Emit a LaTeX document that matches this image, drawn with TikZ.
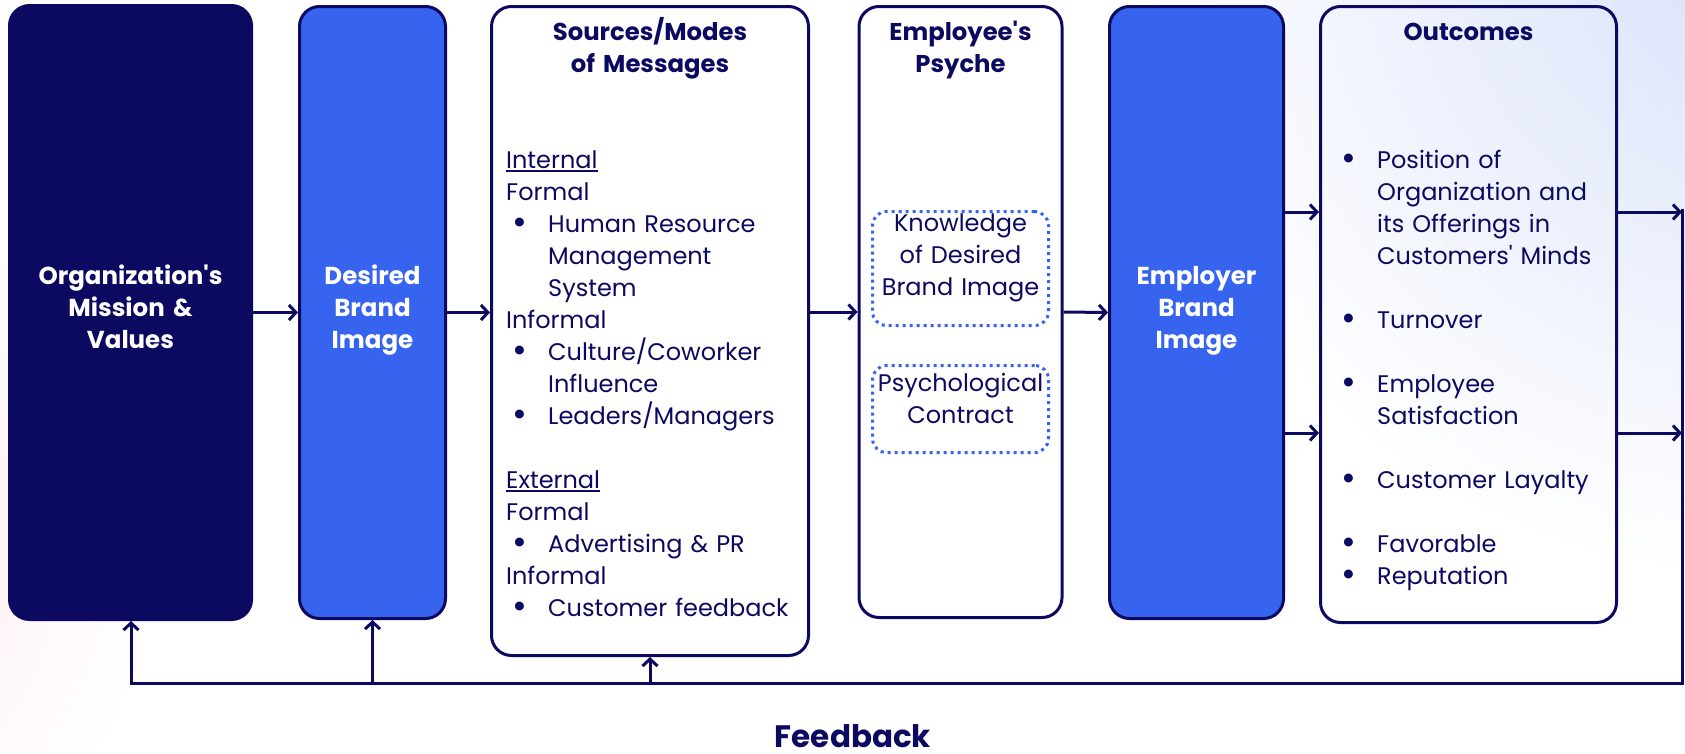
\documentclass[tikz,border=0pt]{standalone}
\usepackage{fontspec}
\usepackage{graphicx}
\setmainfont{Poppins}
\usetikzlibrary{arrows.meta}

\definecolor{navy}{HTML}{0C0A60}
\definecolor{brandblue}{HTML}{3764EE}
\definecolor{bgpink}{HTML}{FCE3EC}
\definecolor{bglav}{HTML}{D9E1FA}

% bullet line and continuation line inside a list column
\newcommand\bigdot{\smash{\raisebox{-2.6pt}{\scalebox{1.5}{\textbullet}}}}
\newcommand\bitem[1]{\makebox[28pt][c]{\bigdot}\hspace{14pt}#1}
\newcommand\bcont[1]{\hspace*{42pt}#1}
% thick underline for the section heads
\newsavebox\ulinebox
\newcommand\uline[1]{\leavevmode\sbox\ulinebox{#1}\rlap{\rule[-4pt]{\wd\ulinebox}{2pt}}\usebox\ulinebox}

\begin{document}
\begin{tikzpicture}[x=1pt,y=-1pt,
  box/.style={rounded corners=20pt, line width=3pt, draw=navy, inner sep=0pt},
  darkbox/.style={box, fill=navy},
  bluebox/.style={box, fill=brandblue},
  whitebox/.style={box},
  dotbox/.style={draw=brandblue, line width=3pt, dash pattern=on 3pt off 4pt,
                 rounded corners=14pt, inner sep=0pt},
  arr/.style={draw=navy, line width=3pt, -{Straight Barb[length=7pt,width=15pt]}},
  line/.style={draw=navy, line width=3pt},
  boldtext/.style={font=\fontsize{24.5}{32}\selectfont\bfseries, align=center,
                   text width=240pt, inner sep=0pt, anchor=base},
  whitetitle/.style={boldtext, text=white},
  navytitle/.style={boldtext, text=navy, font=\fontsize{24.3}{32}\selectfont\bfseries},
  bodytext/.style={font=\fontsize{24}{32}\selectfont, text=navy, inner sep=0pt},
  listtext/.style={bodytext, align=left, text width=300pt, anchor=base west},
  centertext/.style={bodytext, align=center, text width=200pt, anchor=base}]

\useasboundingbox (0,0) rectangle (1685,753);

% soft background wash
\fill[white] (0,0) rectangle (1685,753);
\begin{scope}
  \clip (0,0) rectangle (1685,753);
  \begin{scope}[blend mode=multiply]
    \shade[inner color=bgpink, outer color=white] (-260,540) circle (420);
    \shade[inner color=bglav, outer color=white] (1760,-60) circle (640);
  \end{scope}
\end{scope}

% main columns
\node[darkbox, minimum width=242pt, minimum height=614pt] (B1) at (130.5,312.5) {};
\node[bluebox, minimum width=146pt, minimum height=612pt] (B2) at (372.5,312.5) {};
\node[whitebox, minimum width=317pt, minimum height=649pt] (B3) at (650,331) {};
\node[whitebox, minimum width=203pt, minimum height=611pt] (B4) at (960.5,312) {};
\node[bluebox, minimum width=174pt, minimum height=612pt] (B5) at (1196.5,312.5) {};
\node[whitebox, minimum width=296pt, minimum height=616pt] (B6) at (1468.5,314.5) {};

% psyche components
\node[dotbox, minimum width=176pt, minimum height=114pt] (K) at (960.5,268.5) {};
\node[dotbox, minimum width=176pt, minimum height=87pt] (P) at (960.5,409) {};

% labels of the filled columns
\node[whitetitle] (t1) at (130.5,284) {Organization\textquotesingle s\\Mission \&\\Values};
\node[whitetitle] (t2) at (372.5,284) {Desired\\Brand\\Image};
\node[whitetitle] (t5) at (1196.5,284) {Employer\\Brand\\Image};

% headings of the white columns
\node[navytitle] (h3) at (650,40) {Sources/Modes\\of Messages};
\node[navytitle] (h4) at (960.5,40) {Employee\textquotesingle s\\Psyche};
\node[navytitle] (h6) at (1468.5,40) {Outcomes};

% sources of messages
\node[listtext] (l3) at (506,168) {%
  \uline{Internal}\\
  Formal\\
  \bitem{Human Resource}\\
  \bcont{Management}\\
  \bcont{System}\\
  Informal\\
  \bitem{Culture/Coworker}\\
  \bcont{Influence}\\
  \bitem{Leaders/Managers}\\[32pt]
  \uline{External}\\
  Formal\\
  \bitem{Advertising \& PR}\\
  Informal\\
  \bitem{Customer feedback}};

% psyche texts
\node[centertext] (kt) at (960.5,231) {Knowledge\\of Desired\\Brand Image};
\node[centertext] (pt) at (960.5,391) {Psychological\\Contract};

% outcomes
\node[listtext] (l6) at (1335,168) {%
  \bitem{Position of}\\
  \bcont{Organization and}\\
  \bcont{its Offerings in}\\
  \bcont{Customers\textquotesingle{} Minds}\\[32pt]
  \bitem{Turnover}\\[32pt]
  \bitem{Employee}\\
  \bcont{Satisfaction}\\[32pt]
  \bitem{Customer Layalty}\\[32pt]
  \bitem{Favorable}\\
  \bitem{Reputation}};

% forward flow
\coordinate (row1) at (0,212);
\coordinate (row2) at (0,433);
\coordinate (fbR) at (1682,683);
\coordinate (fbL) at (131,683);

\draw[arr] (B1.east) -- (B2.west);
\draw[arr] (B2.east) -- (B2.east -| B3.west);
\draw[arr] (B3.east |- B4.west) -- (B4.west);
\draw[arr] (B4.east) -- (B5.west);
\draw[arr] (B5.east |- row1) -- (B6.west |- row1);
\draw[arr] (B5.east |- row2) -- (B6.west |- row2);
\draw[arr] (B6.east |- row1) -- (fbR |- row1);
\draw[arr] (B6.east |- row2) -- (fbR |- row2);

% feedback loop
\draw[line, line cap=rect] ([yshift=1.5pt]fbR |- row1) -- (fbR) -- (fbL);
\draw[arr] (fbL) -- (fbL |- B1.south);
\draw[arr] (B2.south |- fbL) -- (B2.south);
\draw[arr] (B3.south |- fbL) -- (B3.south);

\node[font=\fontsize{31}{36}\selectfont\bfseries, text=navy, anchor=base, inner sep=0pt]
  (fb) at (853,747) {Feedback};
\end{tikzpicture}
\end{document}
